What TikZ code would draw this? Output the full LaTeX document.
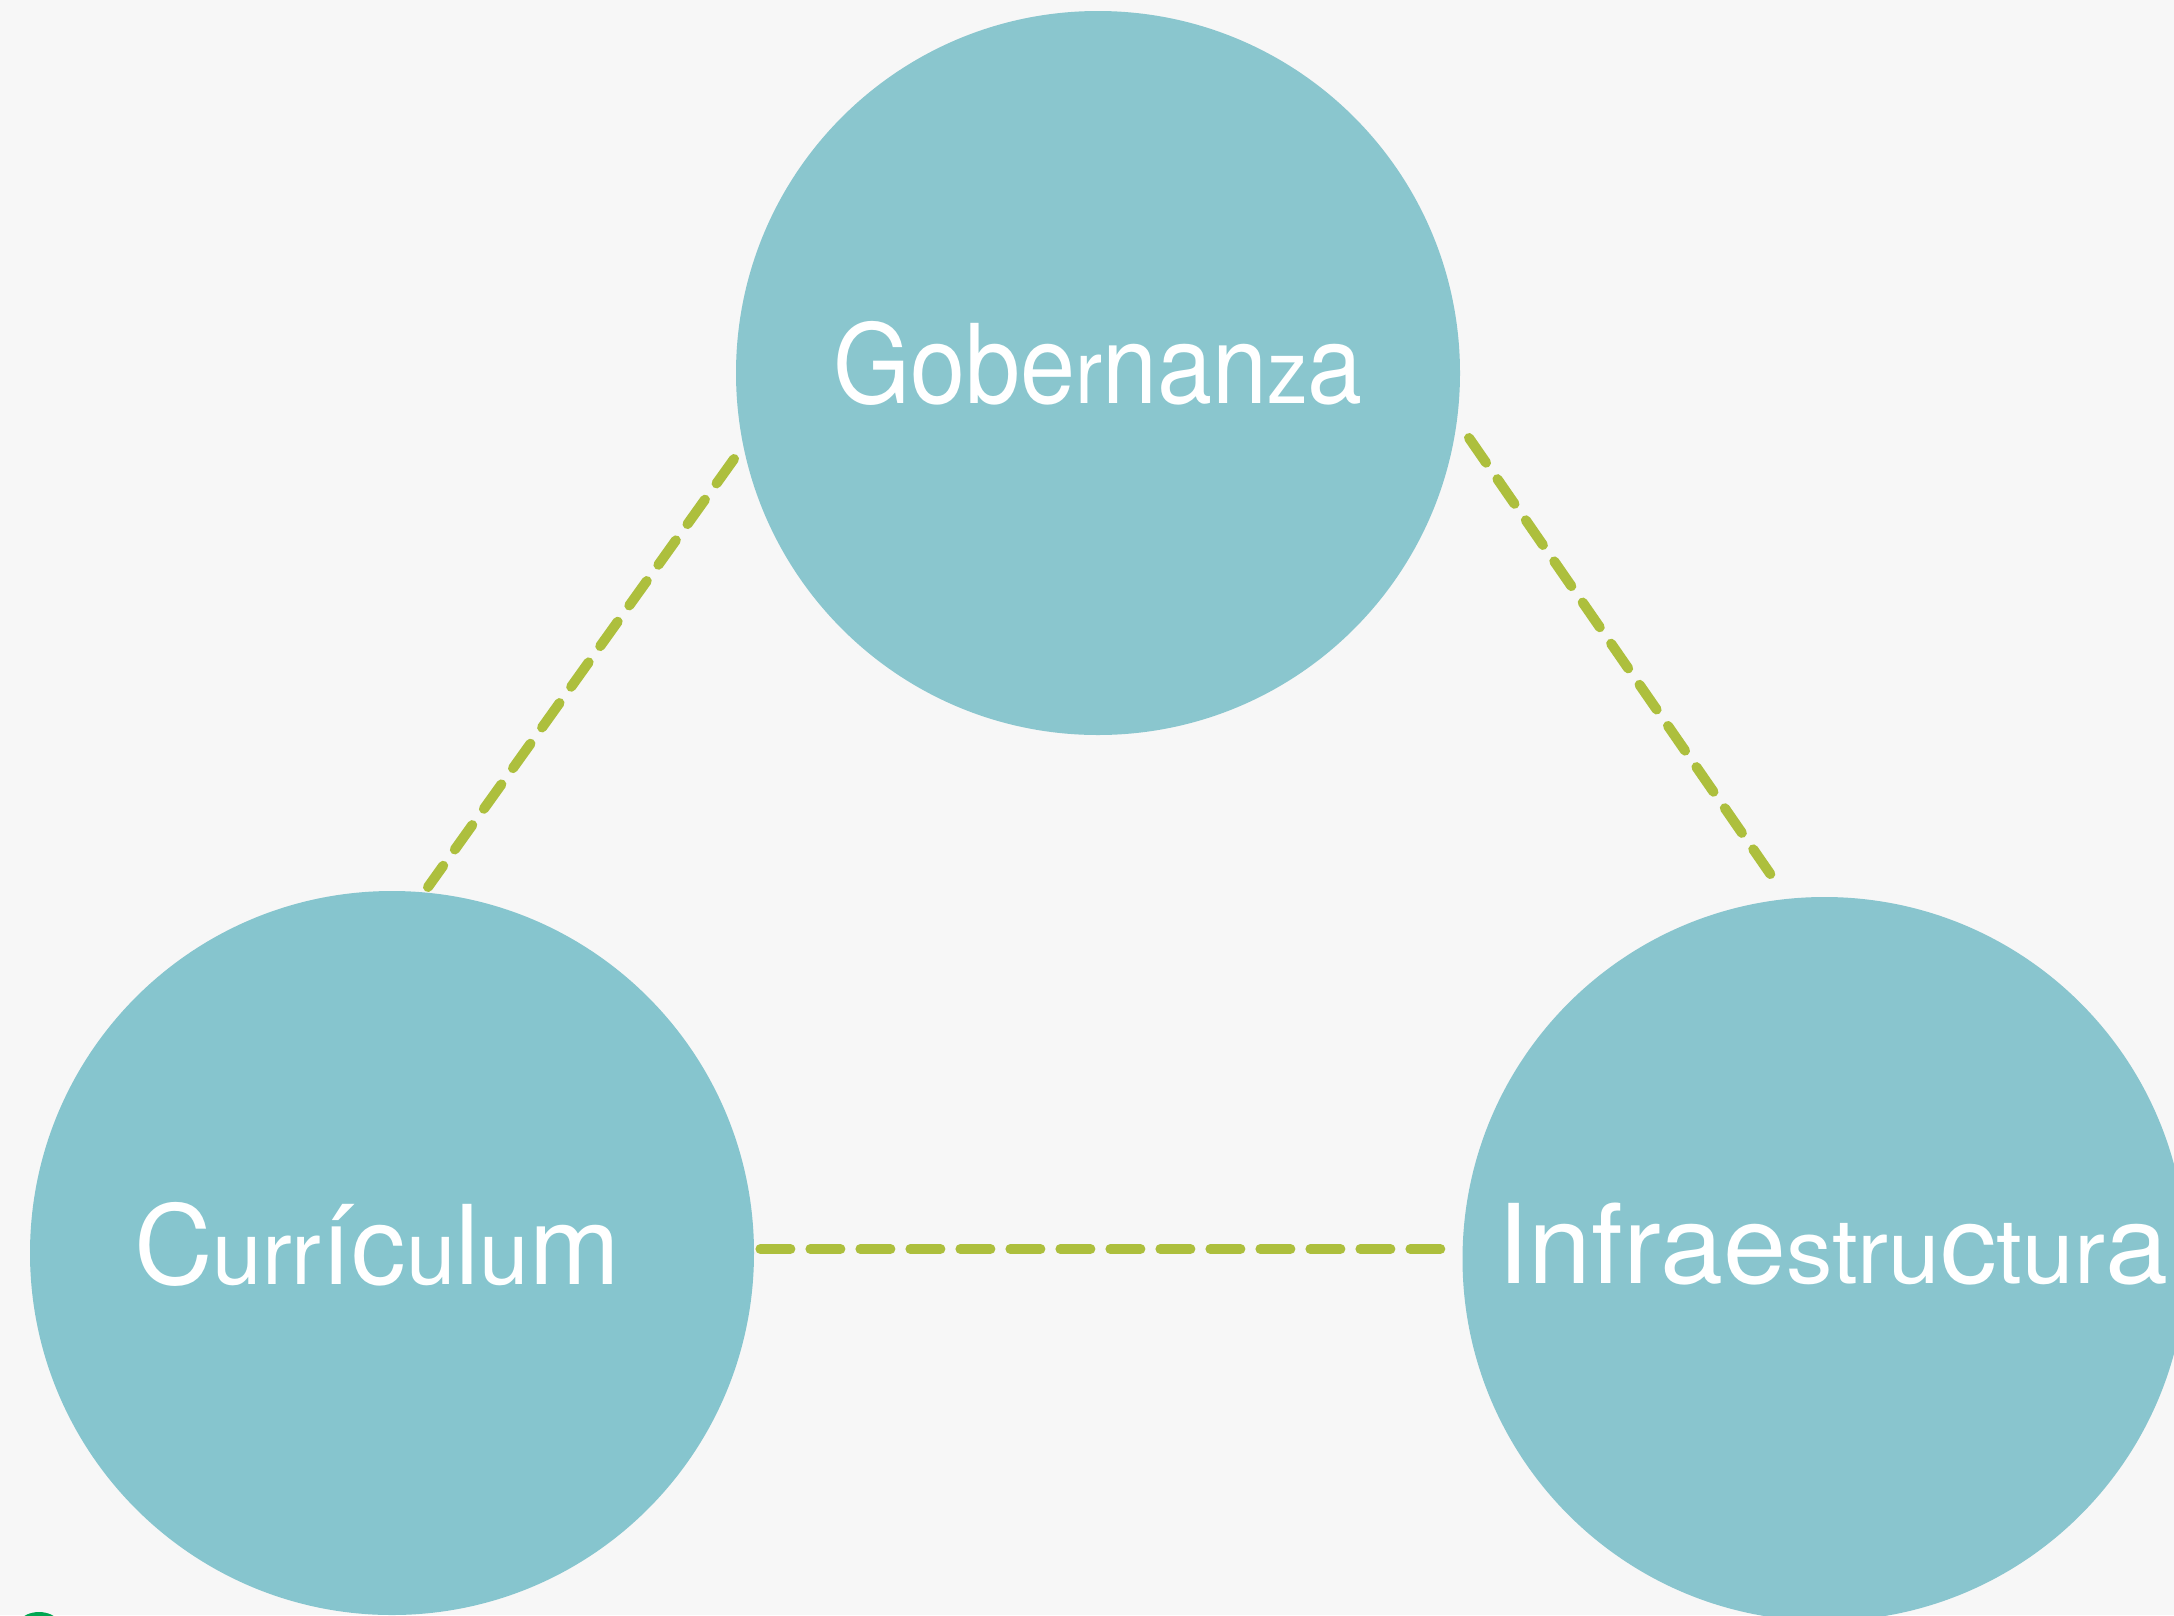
\documentclass[tikz,border=0pt]{standalone}
\usepackage{fontspec}
\setmainfont{TeX Gyre Heros}
\newfontfamily\gobfont[FakeStretch=0.9]{TeX Gyre Heros}
\newfontfamily\curfont[FakeStretch=0.99]{TeX Gyre Heros}
\newfontfamily\inffont[FakeStretch=1.03]{TeX Gyre Heros}
\newcommand{\LG}[1]{{\fontsize{110pt}{110pt}\selectfont #1}}
\newcommand{\SM}[1]{{\fontsize{90pt}{90pt}\selectfont #1}}
\definecolor{bgc}{HTML}{F7F7F7}
\definecolor{topc}{HTML}{8AC6CE}
\definecolor{curc}{HTML}{86C5CE}
\definecolor{infc}{HTML}{89C5CE}
\definecolor{dashc}{HTML}{ADBF3D}
\definecolor{dotc}{HTML}{00A651}
\tikzset{
  theme/.style={circle,minimum size=724pt,inner sep=0pt,outer sep=0pt},
  word/.style={anchor=base west,inner sep=0pt,outer sep=0pt,text=white},
  link/.style={draw=dashc,line width=10pt,line cap=round,dash pattern=on 30pt off 20pt}
}
\begin{document}
\begin{tikzpicture}[x=1pt,y=-1pt]
\useasboundingbox (0,0) rectangle (2174,1615);
\clip (0,0) rectangle (2174,1615);
\fill[bgc] (0,0) rectangle (2174,1615);
\fill[dotc] (39,1642) circle (30);
\node[theme,fill=topc] (gob) at (1098,373) {};
\node[theme,fill=curc] (cur) at (392,1253) {};
\node[theme,fill=infc] (inf) at (1824.5,1259) {};
\node[word] (gobt) at (833,403) {\gobfont\LG{Gobe}\SM{r}\LG{nan}\SM{z}\LG{a}};
\node[word] (curt) at (134,1284) {\curfont\LG{C}\SM{urr}\LG{íc}\SM{u}\LG{l}\SM{u}\LG{m}};
\node[word] (inft) at (1497,1283) {\inffont\LG{Infrae}\SM{stru}\LG{c}\SM{tur}\LG{a}};
\draw[link] ([shift={(-364,86)}]gob.center) -- ([shift={(36,-366)}]cur.center);
\draw[link] ([shift={(371,65)}]gob.center) -- ([shift={(-53.5,-384)}]inf.center);
\draw[link] ([shift={(368.4,-4)}]cur.center) -- ([shift={(-384.2,-10)}]inf.center);
\end{tikzpicture}
\end{document}
